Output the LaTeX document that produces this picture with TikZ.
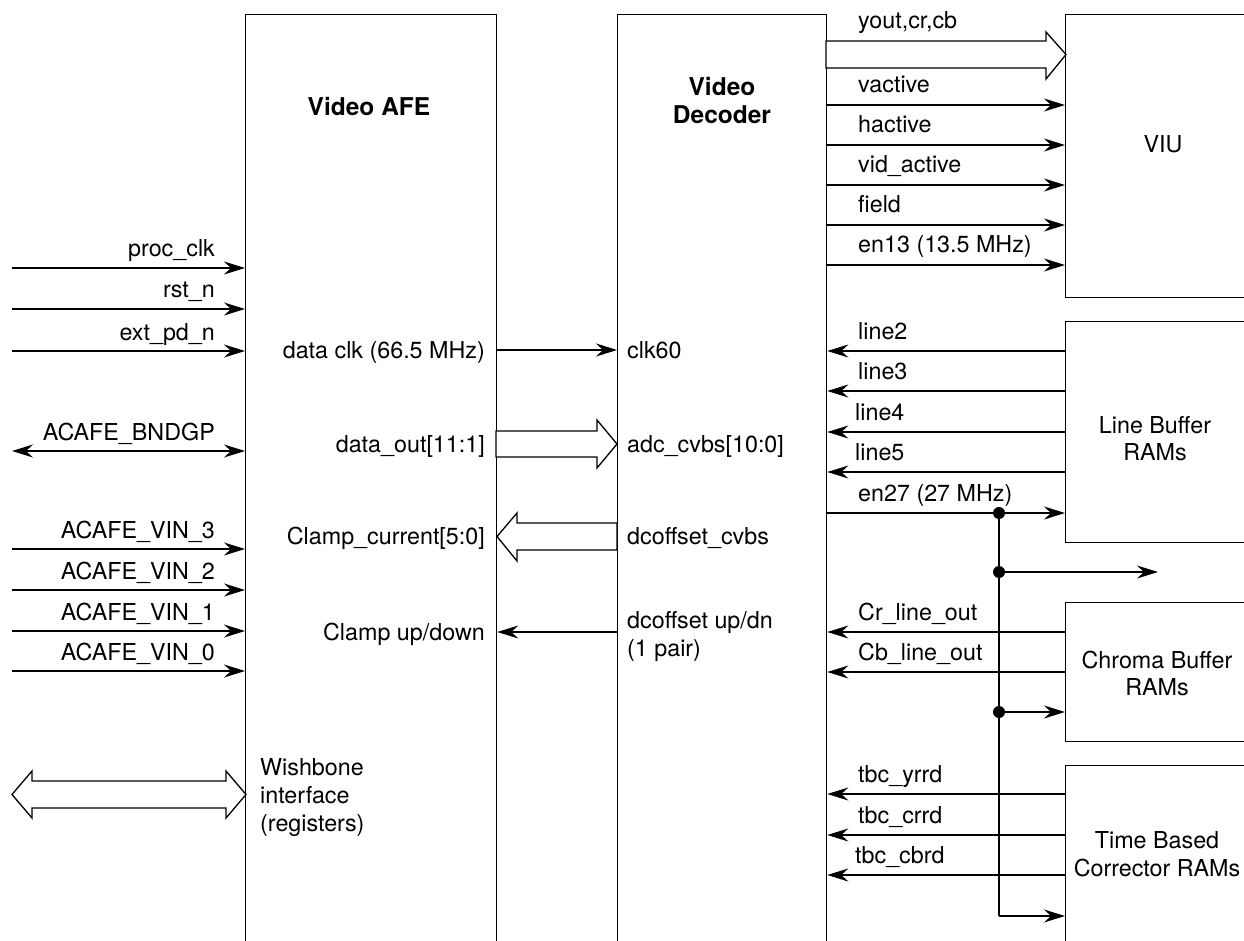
\documentclass[tikz,border=0pt]{standalone}
\usepackage{fontspec}
\setmainfont{TeX Gyre Heros}
\usetikzlibrary{arrows.meta}
\begin{document}
\begin{tikzpicture}[x=1pt,y=-1pt,
  box/.style={draw, line width=1.3pt, inner sep=0pt, anchor=north west},
  sig/.style={line width=1.3pt, -{Stealth[length=21pt,width=13pt,inset=7pt]}},
  bsig/.style={line width=1.3pt, {Stealth[length=21pt,width=13pt,inset=7pt]}-{Stealth[length=21pt,width=13pt,inset=7pt]}},
  fat/.style={draw, line width=1.3pt, fill=white, line join=miter},
  lbl/.style={font=\fontsize{23.3}{28}\selectfont, inner sep=0pt},
  ttl/.style={font=\fontsize{24.5}{29}\selectfont\bfseries, inner sep=0pt},
  dot/.style={fill=black}]
\useasboundingbox (0,0) rectangle (1244,941);
\clip (0,0) rectangle (1244,941);
% blocks
\node[box, minimum width=251pt, minimum height=1000pt] (afe) at (245,14) {};
\node[box, minimum width=209pt, minimum height=1000pt] (dec) at (617,14) {};
\node[box, minimum width=300pt, minimum height=283pt] (viu) at (1065,14) {};
\node[box, minimum width=300pt, minimum height=221pt] (lb) at (1065,321) {};
\node[box, minimum width=300pt, minimum height=139pt] (cb) at (1065,602) {};
\node[box, minimum width=300pt, minimum height=300pt] (tbc) at (1065,765) {};
% block titles
\node[ttl, anchor=base] (tafe) at (369,116) {Video AFE};
\node[ttl, anchor=base] (tdec1) at (722,96) {Video};
\node[ttl, anchor=base] (tdec2) at (722,124) {Decoder};
\node[lbl, anchor=base] (tviu) at (1163,153) {VIU};
\node[lbl, anchor=base] (tlb1) at (1155,433) {Line Buffer};
\node[lbl, anchor=base] (tlb2) at (1155,460) {RAMs};
\node[lbl, anchor=base] (tcb1) at (1157,668) {Chroma Buffer};
\node[lbl, anchor=base] (tcb2) at (1157,695) {RAMs};
\node[lbl, anchor=base] (ttb1) at (1157,848) {Time Based};
\node[lbl, anchor=base] (ttb2) at (1157,876) {Corrector RAMs};
% left inputs
\coordinate (i1) at (12,268);
\coordinate (i2) at (12,309);
\coordinate (i3) at (12,351);
\coordinate (i4) at (12,451);
\coordinate (i5) at (12,549);
\coordinate (i6) at (12,590);
\coordinate (i7) at (12,631);
\coordinate (i8) at (12,671);
\draw[sig] (i1) -- (i1 -| afe.west);
\draw[sig] (i2) -- (i2 -| afe.west);
\draw[sig] (i3) -- (i3 -| afe.west);
\draw[bsig] (i4) -- (i4 -| afe.west);
\draw[sig] (i5) -- (i5 -| afe.west);
\draw[sig] (i6) -- (i6 -| afe.west);
\draw[sig] (i7) -- (i7 -| afe.west);
\draw[sig] (i8) -- (i8 -| afe.west);
\node[lbl, anchor=base east] (l1) at (215,257) {proc\_clk};
\node[lbl, anchor=base east] (l2) at (215,298) {rst\_n};
\node[lbl, anchor=base east] (l3) at (215,340) {ext\_pd\_n};
\node[lbl, anchor=base east] (l4) at (215,440) {ACAFE\_BNDGP};
\node[lbl, anchor=base east] (l5) at (215,538) {ACAFE\_VIN\_3};
\node[lbl, anchor=base east] (l6) at (215,579) {ACAFE\_VIN\_2};
\node[lbl, anchor=base east] (l7) at (215,620) {ACAFE\_VIN\_1};
\node[lbl, anchor=base east] (l8) at (215,660) {ACAFE\_VIN\_0};
% wishbone
\draw[fat] (12,794.5) -- (32,771) -- (32,781) -- (226,781) -- (226,771) -- (246,794.5)
  -- (226,818) -- (226,808) -- (32,808) -- (32,818) -- cycle;
\node[lbl, anchor=base west] (w1) at (260,775) {Wishbone};
\node[lbl, anchor=base west] (w2) at (260,803) {interface};
\node[lbl, anchor=base west] (w3) at (260,831) {(registers)};
% AFE <-> decoder
\coordinate (m1) at (0,350);
\coordinate (m4) at (0,632);
\draw[sig] (m1 -| afe.east) -- (m1 -| dec.west);
\draw[sig] (m4 -| dec.west) -- (m4 -| afe.east);
\draw[fat] (496,431) -- (597,431) -- (597,420) -- (617,444) -- (597,468) -- (597,457) -- (496,457) -- cycle;
\draw[fat] (617,523) -- (517,523) -- (517,513) -- (497,536.5) -- (517,561) -- (517,550) -- (617,550) -- cycle;
\node[lbl, anchor=base east] (a1) at (485,358) {data clk (66.5 MHz)};
\node[lbl, anchor=base east] (a2) at (485,452) {data\_out[11:1]};
\node[lbl, anchor=base east] (a3) at (485,544) {Clamp\_current[5:0]};
\node[lbl, anchor=base east] (a4) at (485,640) {Clamp up/down};
\node[lbl, anchor=base west] (d1) at (627,358) {clk60};
\node[lbl, anchor=base west] (d2) at (627,452) {adc\_cvbs[10:0]};
\node[lbl, anchor=base west] (d3) at (627,544) {dcoffset\_cvbs};
\node[lbl, anchor=base west] (d4) at (627,628) {dcoffset up/dn};
\node[lbl, anchor=base west] (d5) at (627,656) {(1 pair)};
% decoder -> VIU
\draw[fat] (826,41) -- (1046,41) -- (1046,32) -- (1066,54.5) -- (1046,79) -- (1046,68) -- (826,68) -- cycle;
\coordinate (v1) at (0,105);
\coordinate (v2) at (0,145);
\coordinate (v3) at (0,185);
\coordinate (v4) at (0,225);
\coordinate (v5) at (0,265);
\draw[sig] (v1 -| dec.east) -- (v1 -| viu.west);
\draw[sig] (v2 -| dec.east) -- (v2 -| viu.west);
\draw[sig] (v3 -| dec.east) -- (v3 -| viu.west);
\draw[sig] (v4 -| dec.east) -- (v4 -| viu.west);
\draw[sig] (v5 -| dec.east) -- (v5 -| viu.west);
\node[lbl, anchor=base west] (r0) at (858,29) {yout,cr,cb};
\node[lbl, anchor=base west] (r1) at (858,93) {vactive};
\node[lbl, anchor=base west] (r2) at (858,133) {hactive};
\node[lbl, anchor=base west] (r3) at (858,173) {vid\_active};
\node[lbl, anchor=base west] (r4) at (858,213) {field};
\node[lbl, anchor=base west] (r5) at (858,253) {en13 (13.5 MHz)};
% line buffer -> decoder
\coordinate (b1) at (0,351);
\coordinate (b2) at (0,391);
\coordinate (b3) at (0,432);
\coordinate (b4) at (0,472);
\coordinate (b5) at (0,513);
\draw[sig] (b1 -| lb.west) -- (b1 -| dec.east);
\draw[sig] (b2 -| lb.west) -- (b2 -| dec.east);
\draw[sig] (b3 -| lb.west) -- (b3 -| dec.east);
\draw[sig] (b4 -| lb.west) -- (b4 -| dec.east);
\draw[sig] (b5 -| dec.east) -- (b5 -| lb.west);
\node[lbl, anchor=base west] (s1) at (858,339) {line2};
\node[lbl, anchor=base west] (s2) at (858,379) {line3};
\node[lbl, anchor=base west] (s3) at (855,420) {line4};
\node[lbl, anchor=base west] (s4) at (855,460) {line5};
\node[lbl, anchor=base west] (s5) at (858,501) {en27 (27 MHz)};
% en27 distribution
\coordinate (j1) at (999,513);
\coordinate (j2) at (999,572);
\coordinate (j3) at (999,712);
\coordinate (j4) at (999,916);
\coordinate (e2) at (1158,572);
\draw[line width=1.3pt] (j1) -- (j4);
\draw[sig] (j2) -- (e2);
\draw[sig] (j3) -- (j3 -| cb.west);
\draw[sig] (j4) -- (j4 -| tbc.west);
\fill[dot] (j1) circle[radius=6pt];
\fill[dot] (j2) circle[radius=6pt];
\fill[dot] (j3) circle[radius=6pt];
% chroma -> decoder
\coordinate (c1) at (0,632);
\coordinate (c2) at (0,672);
\draw[sig] (c1 -| cb.west) -- (c1 -| dec.east);
\draw[sig] (c2 -| cb.west) -- (c2 -| dec.east);
\node[lbl, anchor=base west] (u1) at (858,620) {Cr\_line\_out};
\node[lbl, anchor=base west] (u2) at (858,660) {Cb\_line\_out};
% tbc -> decoder
\coordinate (t1) at (0,794);
\coordinate (t2) at (0,835);
\coordinate (t3) at (0,875);
\draw[sig] (t1 -| tbc.west) -- (t1 -| dec.east);
\draw[sig] (t2 -| tbc.west) -- (t2 -| dec.east);
\draw[sig] (t3 -| tbc.west) -- (t3 -| dec.east);
\node[lbl, anchor=base west] (x1) at (858,782) {tbc\_yrrd};
\node[lbl, anchor=base west] (x2) at (858,823) {tbc\_crrd};
\node[lbl, anchor=base west] (x3) at (855,863) {tbc\_cbrd};
\end{tikzpicture}
\end{document}
